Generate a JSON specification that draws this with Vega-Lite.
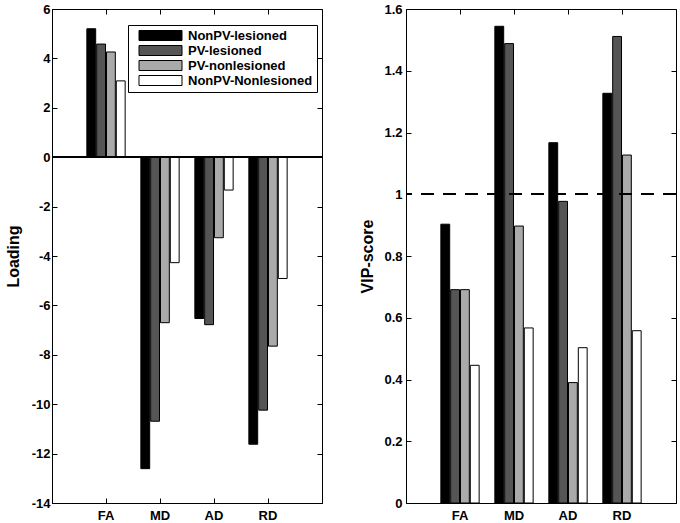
{
  "$schema": "https://vega.github.io/schema/vega-lite/v6.json",
  "padding": {"left": 4, "top": 2, "right": 4, "bottom": 0},
  "background": "white",
  "config": {
    "font": "Liberation Sans",
    "view": {"stroke": "black", "strokeWidth": 1},
    "axis": {
      "labelFont": "Liberation Sans", "labelFontWeight": "bold", "labelFontSize": 13, "labelColor": "black",
      "titleFont": "Liberation Sans", "titleFontWeight": "bold", "titleFontSize": 16, "titleColor": "black",
      "grid": false, "tickColor": "black", "domainColor": "black", "tickSize": 5, "tickWidth": 1
    },
    "legend": {"labelFont": "Liberation Sans", "labelFontWeight": "bold", "labelFontSize": 13, "labelColor": "black"}
  },
  "data": {"values": [
    {"cat": "FA", "group": "NonPV-lesioned", "loading": 5.20, "vip": 0.903},
    {"cat": "FA", "group": "PV-lesioned", "loading": 4.58, "vip": 0.691},
    {"cat": "FA", "group": "PV-nonlesioned", "loading": 4.26, "vip": 0.691},
    {"cat": "FA", "group": "NonPV-Nonlesioned", "loading": 3.09, "vip": 0.446},
    {"cat": "MD", "group": "NonPV-lesioned", "loading": -12.61, "vip": 1.544},
    {"cat": "MD", "group": "PV-lesioned", "loading": -10.69, "vip": 1.488},
    {"cat": "MD", "group": "PV-nonlesioned", "loading": -6.70, "vip": 0.897},
    {"cat": "MD", "group": "NonPV-Nonlesioned", "loading": -4.27, "vip": 0.567},
    {"cat": "AD", "group": "NonPV-lesioned", "loading": -6.53, "vip": 1.167},
    {"cat": "AD", "group": "PV-lesioned", "loading": -6.78, "vip": 0.977},
    {"cat": "AD", "group": "PV-nonlesioned", "loading": -3.26, "vip": 0.390},
    {"cat": "AD", "group": "NonPV-Nonlesioned", "loading": -1.33, "vip": 0.503},
    {"cat": "RD", "group": "NonPV-lesioned", "loading": -11.62, "vip": 1.327},
    {"cat": "RD", "group": "PV-lesioned", "loading": -10.24, "vip": 1.511},
    {"cat": "RD", "group": "PV-nonlesioned", "loading": -7.65, "vip": 1.127},
    {"cat": "RD", "group": "NonPV-Nonlesioned", "loading": -4.91, "vip": 0.558}
  ]},
  "bounds": "flush",
  "spacing": 84,
  "resolve": {"legend": {"color": "independent"}},
  "hconcat": [
    {
      "width": 270, "height": 494,
      "layer": [
        {
          "mark": {"type": "bar", "stroke": "black", "strokeWidth": 1},
          "encoding": {
            "x": {"field": "cat", "type": "nominal", "sort": ["FA", "MD", "AD", "RD"],
                  "scale": {"paddingInner": 0, "paddingOuter": 0.5},
                  "axis": {"orient": "bottom", "title": null, "labelAngle": 0, "labelPadding": 6, "ticks": false, "domain": true}},
            "xOffset": {"field": "group", "type": "nominal",
                        "sort": ["NonPV-lesioned", "PV-lesioned", "PV-nonlesioned", "NonPV-Nonlesioned"],
                        "scale": {"paddingInner": 0.1, "paddingOuter": 0.8}},
            "y": {"field": "loading", "type": "quantitative",
                  "scale": {"domain": [-14, 6], "nice": false, "zero": false},
                  "axis": {"orient": "left", "title": "Loading", "values": [-14, -12, -10, -8, -6, -4, -2, 0, 2, 4, 6],
                           "labelExpr": "toString(datum.value)",
                           "labelPadding": 2, "titlePadding": 10, "ticks": false, "domain": true}},
            "color": {"field": "group", "type": "nominal",
                      "sort": ["NonPV-lesioned", "PV-lesioned", "PV-nonlesioned", "NonPV-Nonlesioned"],
                      "scale": {"domain": ["NonPV-lesioned", "PV-lesioned", "PV-nonlesioned", "NonPV-Nonlesioned"],
                                "range": ["#000000", "#555555", "#aaaaaa", "#ffffff"]},
                      "legend": {"title": null, "orient": "none", "legendX": 76, "legendY": 16,
                                 "strokeColor": "black", "fillColor": "white", "padding": 4,
                                 "symbolType": "M-4.3,-1H4.3V1H-4.3Z", "symbolSize": 100,
                                 "symbolStrokeColor": "black", "symbolStrokeWidth": 1, "symbolOpacity": 1,
                                 "symbolOffset": 22, "labelOffset": 21, "rowPadding": 0, "cornerRadius": 0}}
          }
        },
        {
          "mark": {"type": "point", "opacity": 0},
          "encoding": {
            "x": {"field": "cat", "type": "nominal", "sort": ["FA", "MD", "AD", "RD"],
                  "axis": {"orient": "top", "offset": -494, "title": null, "labels": false, "domain": false, "ticks": true, "tickSize": 5}},
            "y": {"field": "loading", "type": "quantitative",
                  "axis": {"orient": "right", "offset": -270, "title": null, "labels": false, "domain": false, "ticks": true, "tickSize": 5,
                           "values": [-14, -12, -10, -8, -6, -4, -2, 0, 2, 4, 6]}}
          }
        },
        {
          "mark": {"type": "point", "opacity": 0},
          "encoding": {
            "x": {"field": "cat", "type": "nominal", "sort": ["FA", "MD", "AD", "RD"],
                  "axis": {"orient": "bottom", "offset": -494, "title": null, "labels": false, "domain": false, "ticks": true, "tickSize": 5}},
            "y": {"field": "loading", "type": "quantitative",
                  "axis": {"orient": "left", "offset": -270, "title": null, "labels": false, "domain": false, "ticks": true, "tickSize": 5,
                           "values": [-14, -12, -10, -8, -6, -4, -2, 0, 2, 4, 6]}}
          }
        },
        {
          "mark": {"type": "rule", "color": "black", "strokeWidth": 1},
          "encoding": {"y": {"datum": 0, "type": "quantitative", "axis": null}}
        }
      ],
      "resolve": {"axis": {"x": "independent", "y": "independent"}}
    },
    {
      "width": 270, "height": 494,
      "layer": [
        {
          "mark": {"type": "bar", "stroke": "black", "strokeWidth": 1},
          "encoding": {
            "x": {"field": "cat", "type": "nominal", "sort": ["FA", "MD", "AD", "RD"],
                  "scale": {"paddingInner": 0, "paddingOuter": 0.5},
                  "axis": {"orient": "bottom", "title": null, "labelAngle": 0, "labelPadding": 6, "ticks": false, "domain": true}},
            "xOffset": {"field": "group", "type": "nominal",
                        "sort": ["NonPV-lesioned", "PV-lesioned", "PV-nonlesioned", "NonPV-Nonlesioned"],
                        "scale": {"paddingInner": 0.1, "paddingOuter": 0.8}},
            "y": {"field": "vip", "type": "quantitative",
                  "scale": {"domain": [0, 1.6], "nice": false},
                  "axis": {"orient": "left", "title": "VIP-score", "values": [0, 0.2, 0.4, 0.6, 0.8, 1, 1.2, 1.4, 1.6],
                           "labelExpr": "toString(datum.value)",
                           "labelPadding": 4, "titlePadding": 8, "ticks": false, "domain": true}},
            "color": {"field": "group", "type": "nominal",
                      "sort": ["NonPV-lesioned", "PV-lesioned", "PV-nonlesioned", "NonPV-Nonlesioned"],
                      "scale": {"domain": ["NonPV-lesioned", "PV-lesioned", "PV-nonlesioned", "NonPV-Nonlesioned"],
                                "range": ["#000000", "#555555", "#aaaaaa", "#ffffff"]},
                      "legend": null}
          }
        },
        {
          "mark": {"type": "point", "opacity": 0},
          "encoding": {
            "x": {"field": "cat", "type": "nominal", "sort": ["FA", "MD", "AD", "RD"],
                  "axis": {"orient": "top", "offset": -494, "title": null, "labels": false, "domain": false, "ticks": true, "tickSize": 5}},
            "y": {"field": "vip", "type": "quantitative",
                  "axis": {"orient": "right", "offset": -270, "title": null, "labels": false, "domain": false, "ticks": true, "tickSize": 5,
                           "values": [0, 0.2, 0.4, 0.6, 0.8, 1, 1.2, 1.4, 1.6]}}
          }
        },
        {
          "mark": {"type": "point", "opacity": 0},
          "encoding": {
            "x": {"field": "cat", "type": "nominal", "sort": ["FA", "MD", "AD", "RD"],
                  "axis": {"orient": "bottom", "offset": -494, "title": null, "labels": false, "domain": false, "ticks": true, "tickSize": 5}},
            "y": {"field": "vip", "type": "quantitative",
                  "axis": {"orient": "left", "offset": -270, "title": null, "labels": false, "domain": false, "ticks": true, "tickSize": 5,
                           "values": [0, 0.2, 0.4, 0.6, 0.8, 1, 1.2, 1.4, 1.6]}}
          }
        },
        {
          "mark": {"type": "rule", "color": "black", "strokeWidth": 1, "strokeDash": [13, 9]},
          "encoding": {"y": {"datum": 1, "type": "quantitative", "axis": null}}
        }
      ],
      "resolve": {"axis": {"x": "independent", "y": "independent"}}
    }
  ]
}
